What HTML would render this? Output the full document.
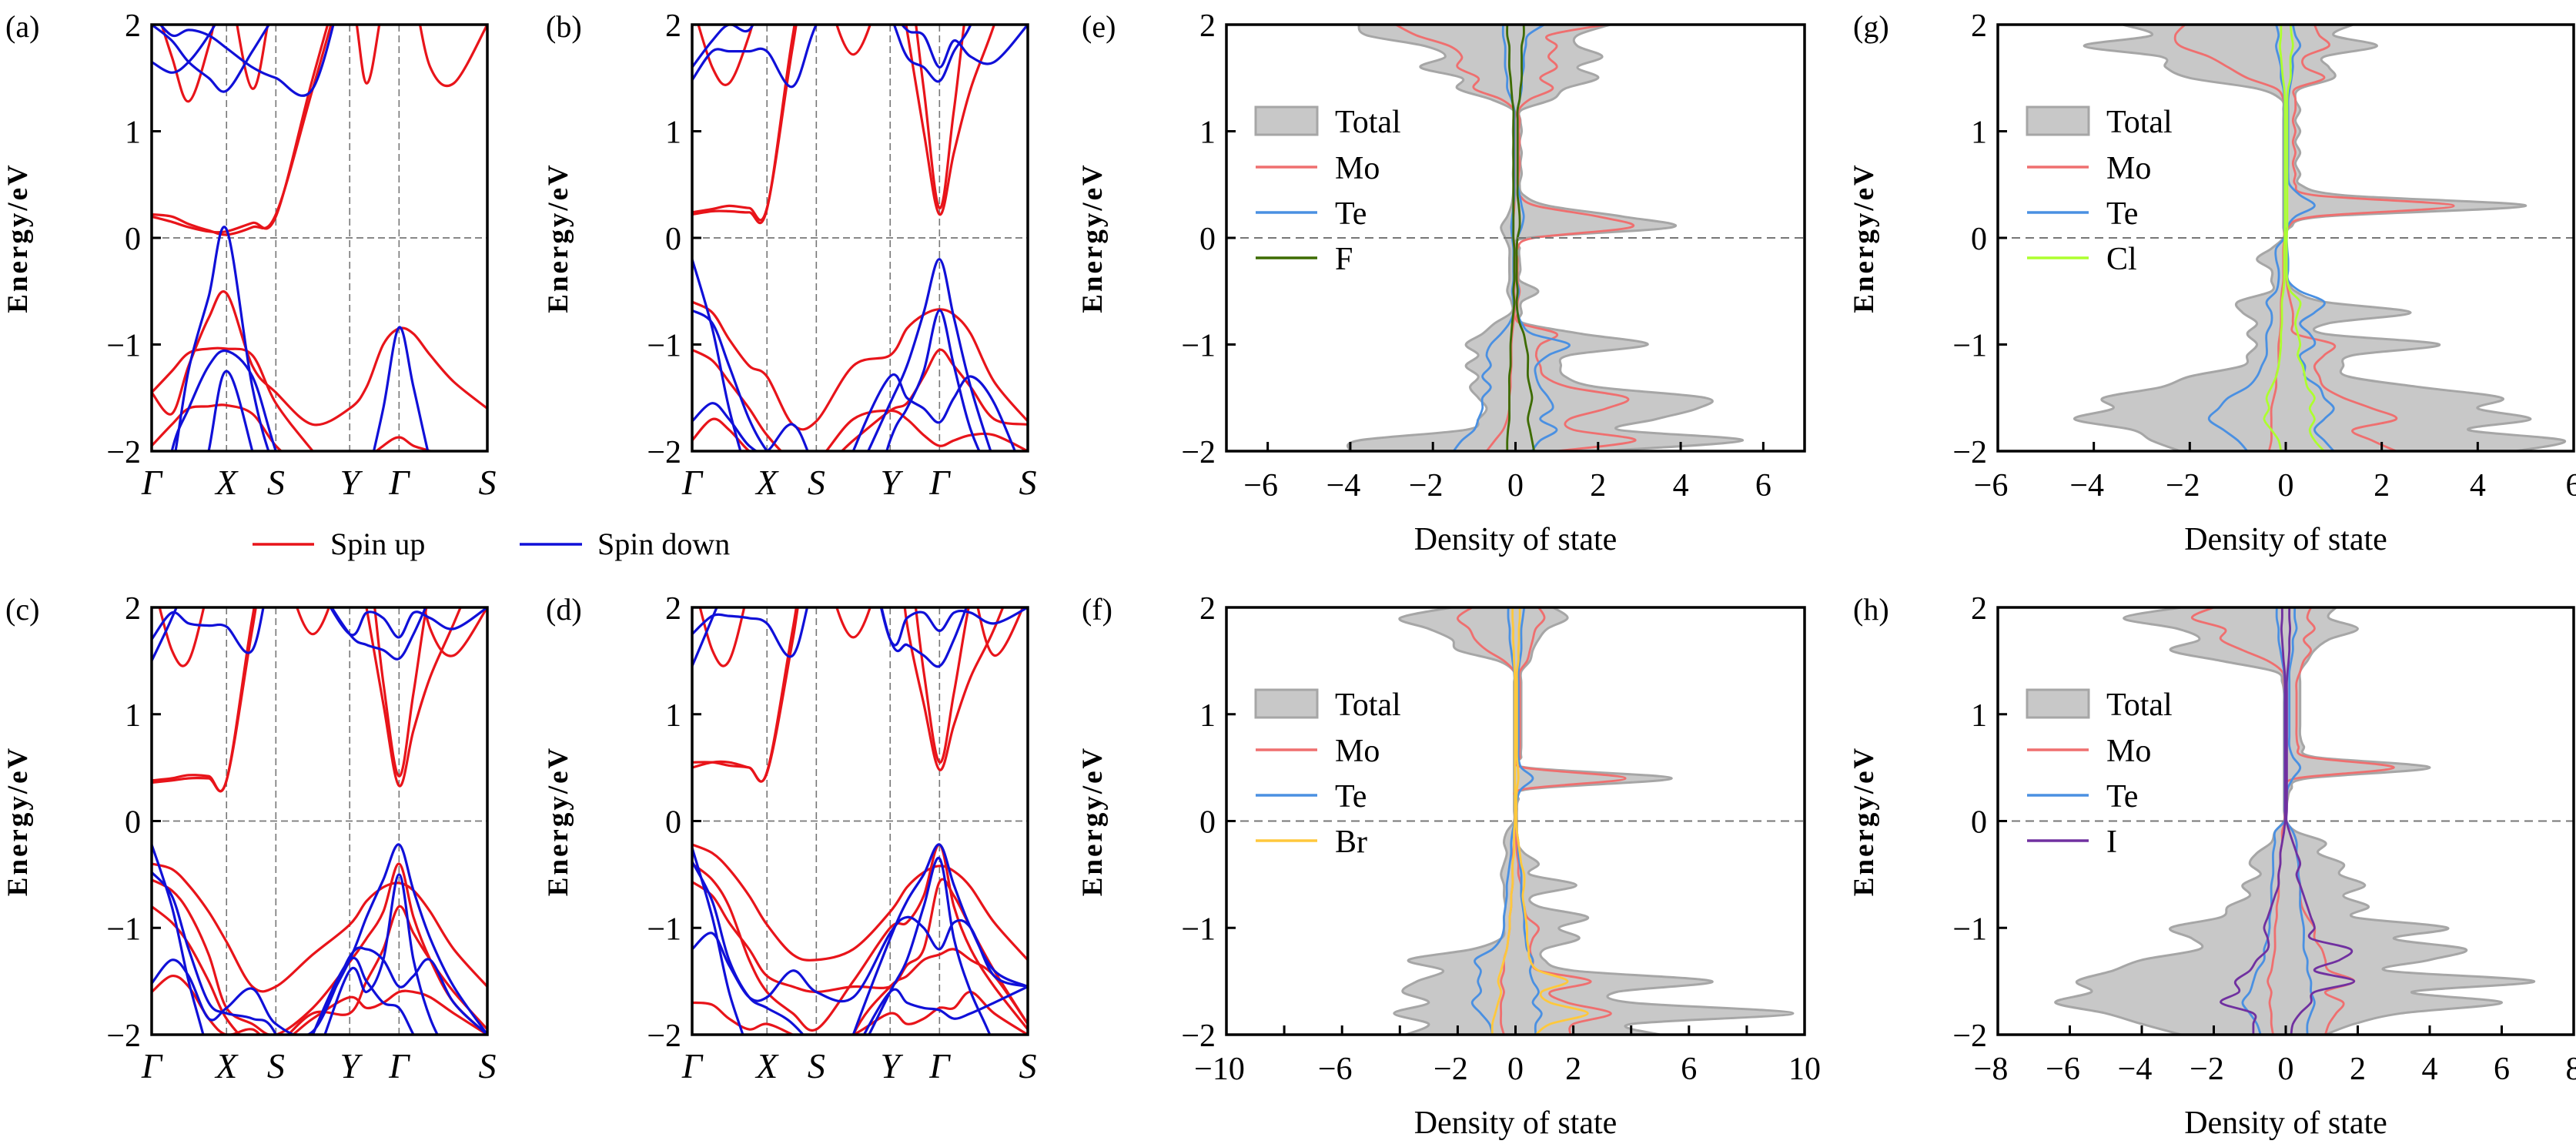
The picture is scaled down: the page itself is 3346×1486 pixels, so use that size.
<!DOCTYPE html>
<html><head><meta charset="utf-8"><style>
html,body{margin:0;padding:0;background:#fff;}
svg{display:block;font-family:"Liberation Serif","DejaVu Serif",serif;}
</style></head><body>
<svg id="fig" width="3346" height="1486" viewBox="0 0 3346 1486" xmlns="http://www.w3.org/2000/svg">
<rect x="0" y="0" width="3346" height="1486" fill="#fff"/>
<g id="root"></g>
<g>
<line x1="328" y1="707" x2="408" y2="707" stroke="#e8141a" stroke-width="3.5"/>
<text x="429" y="720" font-size="40">Spin up</text>
<line x1="675" y1="707" x2="756" y2="707" stroke="#1010d8" stroke-width="3.5"/>
<text x="776" y="720" font-size="40">Spin down</text>
</g>
</svg>
<script>
const kFrac=[0,.06,.11,.17,.223,.30,.37,.48,.59,.64,.69,.737,.78,.83,.9,1];
const kLabels=["Γ","X","S","Y","Γ","S"];
const kLabelFrac=[0,.223,.37,.59,.737,1];
const energyTicks=[2,1,0,-1,-2];
const E=[2,1.9,1.8,1.7,1.6,1.5,1.4,1.3,1.2,1.1,1,0.9,0.8,0.7,0.6,0.5,0.4,0.3,0.2,0.1,0,-0.1,-0.2,-0.3,-0.4,-0.5,-0.6,-0.7,-0.8,-0.9,-1,-1.1,-1.2,-1.3,-1.4,-1.5,-1.6,-1.7,-1.8,-1.9,-2];
const H=3,L=-3;
// band data (a)
const aUp=[
[.22,.2,.13,.07,.03,.1,.22,1.4,2.6,H,H,H,H,H,H,H],
[.2,.15,.1,.06,.06,.14,.2,1.5,2.7,H,H,H,H,H,H,H],
[-1.45,-1.65,-1.2,-0.75,-0.52,-1.2,-1.45,-1.75,-1.6,-1.4,-1.0,-0.85,-0.9,-1.1,-1.35,-1.6],
[-1.45,-1.25,-1.08,-1.04,-1.04,-1.1,-1.55,-2.0,-2.4,-2.1,-1.95,-1.87,-1.95,-2.0,-2.1,-2.3],
[-1.95,-1.75,-1.6,-1.58,-1.57,-1.65,-1.95,-2.3,L,L,L,L,L,L,L,L],
[2.3,1.7,1.28,1.8,2.5,2.6,H,H,H,H,H,H,H,H,H,H],
[H,H,H,2.6,2.5,1.4,2.3,2.6,H,H,H,H,H,H,H,H],
[H,H,H,H,H,H,H,2.6,2.3,1.45,2.2,2.7,H,H,H,H],
[H,H,H,H,H,H,H,H,H,H,H,2.7,2.3,1.6,1.45,2.0]];
const aDn=[
[L,-2.2,-1.24,-0.55,0.08,-1.4,-2.2,L,L,L,L,L,L,L,L,L],
[L,L,L,-2.0,-1.25,-2.0,L,L,L,L,L,L,L,L,L,L],
[L,-2.0,-1.6,-1.2,-1.06,-1.3,-2.0,L,L,L,L,L,L,L,L,L],
[L,L,L,L,L,L,L,L,L,-2.3,-1.6,-0.84,-1.4,-2.1,L,L],
[1.65,1.55,1.65,1.9,2.2,2.6,H,H,H,H,H,H,H,H,H,H],
[2.0,1.85,1.65,1.5,1.38,1.75,2.1,2.6,H,H,H,H,H,H,H,H],
[2.1,1.9,1.95,1.9,1.78,1.6,1.5,1.4,2.6,H,H,H,H,H,H,H]];
// band data (b)
const bUp=[
[.24,.27,.3,.28,.28,1.8,H,H,H,H,H,H,H,H,H,H],
[.22,.25,.25,.24,.27,1.9,H,H,H,H,H,H,H,H,H,H],
[H,H,H,H,H,H,H,H,H,1.95,1.0,.22,.8,1.4,2.0,H],
[H,H,H,H,H,H,H,H,H,2.6,1.4,.28,1.2,2.4,H,H],
[H,H,H,H,H,H,2.6,1.72,2.6,H,H,H,H,H,H,H],
[2.2,1.6,1.45,1.9,2.5,H,H,H,H,H,H,H,H,H,H,H],
[-0.6,-0.7,-0.95,-1.2,-1.3,-1.75,-1.72,-1.2,-1.1,-0.85,-0.72,-0.67,-0.72,-0.9,-1.35,-1.72],
[-1.05,-1.15,-1.35,-1.6,-1.85,-2.1,-2.2,-1.9,-1.62,-1.55,-1.3,-1.05,-1.2,-1.4,-1.7,-1.75],
[-1.9,-1.7,-1.8,-2.0,-2.1,-2.1,-2.1,-1.7,-1.62,-1.7,-1.85,-1.95,-1.9,-1.85,-1.85,-2.0]];
const bDn=[
[-0.2,-0.85,-1.6,-2.3,L,L,L,L,L,L,L,L,L,L,L,L],
[-0.68,-0.8,-1.2,-1.7,-2.0,-2.3,L,L,L,L,L,L,L,L,L,L],
[-1.72,-1.55,-1.7,-1.95,-2.0,-1.75,-2.2,L,L,L,L,L,L,L,L,L],
[L,L,L,L,L,L,L,-2.3,-1.55,-1.2,-0.7,-0.2,-0.75,-1.4,-2.1,L],
[L,L,L,L,L,L,L,L,-1.9,-1.6,-1.25,-0.68,-1.2,-1.8,-2.3,L],
[L,L,L,L,L,L,L,-2.0,-1.3,-1.5,-1.6,-1.73,-1.5,-1.3,-1.55,-2.3],
[1.48,1.75,1.75,1.75,1.75,1.42,2.0,2.6,H,H,H,H,H,H,H,H],
[1.6,1.85,2.0,1.95,2.3,2.6,H,H,H,H,H,H,H,H,H,H],
[H,H,H,H,H,H,H,H,2.1,1.7,1.6,1.47,1.75,2.0,2.6,H],
[H,H,H,H,H,H,H,H,2.2,1.95,1.9,1.6,1.85,1.7,1.65,2.0]];
// band data (c)
const cUp=[
[.38,.4,.43,.42,.38,1.9,H,H,H,H,H,H,H,H,H,H],
[.36,.38,.4,.4,.38,1.8,H,H,H,H,H,H,H,H,H,H],
[H,H,H,H,H,H,H,H,H,2.0,1.1,.33,.85,1.35,1.85,2.6],
[H,H,H,H,H,H,H,H,H,2.6,1.3,.42,1.2,2.2,H,H],
[2.3,1.6,1.5,2.2,H,H,H,H,H,H,H,H,H,H,H,H],
[H,H,H,H,H,H,2.6,1.75,2.6,H,H,H,H,H,H,H],
[H,H,H,H,H,H,H,H,H,H,H,H,2.5,1.8,1.55,2.0],
[-0.4,-0.45,-0.6,-0.85,-1.13,-1.55,-1.55,-1.25,-0.97,-0.75,-0.62,-0.58,-0.65,-0.85,-1.2,-1.55],
[-0.55,-0.65,-0.85,-1.25,-1.75,-1.9,-2.0,-1.75,-1.32,-1.1,-0.85,-0.4,-0.9,-1.3,-1.7,-2.0],
[-0.8,-0.95,-1.15,-1.5,-1.85,-2.1,-2.1,-1.8,-1.8,-1.5,-1.2,-0.8,-1.05,-1.3,-1.6,-1.95],
[-1.6,-1.45,-1.55,-1.85,-2.0,-1.95,-2.1,-1.85,-1.65,-1.75,-1.7,-1.6,-1.6,-1.65,-1.8,-2.0]];
const cDn=[
[-0.22,-0.8,-1.5,-2.2,L,L,L,L,L,L,L,L,L,L,L,L],
[-0.48,-0.7,-1.2,-1.7,-1.8,-1.85,-2.0,L,L,L,L,L,L,L,L,L],
[-1.52,-1.3,-1.45,-1.85,-1.75,-1.57,-1.9,-1.97,-1.27,-1.2,-1.3,-1.55,-1.45,-1.3,-1.7,-2.0],
[L,L,L,L,L,L,L,-2.0,-1.3,-0.9,-0.55,-0.22,-0.65,-1.1,-1.55,-2.0],
[L,L,L,L,L,L,L,-2.3,-1.4,-1.6,-1.3,-0.5,-1.3,-1.85,-2.3,L],
[L,L,L,L,L,L,L,-2.0,-1.3,-1.5,-1.7,-1.75,-2.0,-2.3,L,L],
[1.5,1.9,2.3,H,H,H,H,H,H,H,H,H,H,H,H,H],
[1.7,1.95,1.85,1.83,1.82,1.6,2.5,H,H,H,H,H,H,H,H,H],
[H,H,H,H,H,H,H,2.3,1.75,1.65,1.6,1.52,1.75,2.1,2.6,H],
[H,H,H,H,H,H,H,2.3,1.75,1.95,1.9,1.72,1.95,1.9,1.8,2.0]];
// band data (d)
const dUp=[
[.55,.55,.52,.5,.45,1.7,H,H,H,H,H,H,H,H,H,H],
[.5,.55,.55,.5,.46,1.8,H,H,H,H,H,H,H,H,H,H],
[H,H,H,H,H,H,H,H,H,1.85,1.1,.48,.9,1.35,1.8,2.6],
[H,H,H,H,H,H,H,H,H,2.6,1.4,.55,1.2,2.1,H,H],
[2.3,1.6,1.5,2.2,H,H,H,H,H,H,H,H,H,H,H,H],
[H,H,H,H,H,H,2.6,1.72,2.6,H,H,H,H,H,H,H],
[H,H,H,H,H,H,H,H,H,H,H,H,H,2.3,1.55,2.1],
[-0.22,-0.3,-0.45,-0.7,-0.97,-1.25,-1.3,-1.2,-0.85,-0.62,-0.48,-0.42,-0.47,-0.62,-0.95,-1.3],
[-0.4,-0.55,-0.8,-1.3,-1.6,-1.8,-1.95,-1.5,-1.0,-0.95,-0.7,-0.22,-0.8,-1.2,-1.55,-1.95],
[-0.57,-0.7,-0.95,-1.2,-1.45,-1.55,-1.6,-1.55,-1.55,-1.35,-1.2,-0.57,-0.7,-1.0,-1.4,-1.9],
[-1.7,-1.72,-1.85,-1.95,-1.9,-2.0,-2.1,-2.0,-1.8,-1.9,-1.85,-1.75,-1.75,-1.6,-1.8,-2.0],
[L,L,L,L,L,L,L,-2.0,-1.55,-1.45,-1.3,-1.25,-1.2,-1.3,-1.45,-1.9]];
const dDn=[
[-0.25,-0.9,-1.6,-2.2,L,L,L,L,L,L,L,L,L,L,L,L],
[-0.38,-0.75,-1.3,-1.65,-1.75,-1.9,-2.2,L,L,L,L,L,L,L,L,L],
[-1.2,-1.05,-1.35,-1.65,-1.65,-1.4,-1.6,-1.65,-1.05,-0.9,-1.0,-1.2,-0.95,-1.0,-1.45,-1.55],
[L,L,L,L,L,L,L,-2.0,-1.1,-0.75,-0.5,-0.22,-0.6,-1.0,-1.4,-1.55],
[L,L,L,L,L,L,L,-2.3,-1.6,-1.3,-0.8,-0.35,-1.1,-1.6,-2.1,L],
[L,L,L,L,L,L,L,-2.2,-1.6,-1.7,-1.75,-1.77,-1.85,-1.8,-1.7,-1.55],
[1.45,1.9,2.3,H,H,H,H,H,H,H,H,H,H,H,H,H],
[1.75,1.92,1.92,1.9,1.85,1.55,2.3,H,H,H,H,H,H,H,H,H],
[H,H,H,H,H,H,H,H,1.7,1.65,1.55,1.45,1.7,2.1,2.6,H],
[H,H,H,H,H,H,H,H,1.7,1.9,1.95,1.78,1.95,1.95,1.85,2.0]];
// DOS data (e) F
const eTotUp=[2.3,1.5,1.5,2.1,1.5,2.0,1.2,0.9,0.15,0.12,0.15,0.1,0.15,0.12,0.15,0.1,0.2,0.8,2.6,3.8,0.3,0.1,0.1,0.12,0.1,0.55,0.15,0.15,0.2,1.6,3.2,1.3,1.1,1.2,2.0,4.6,4.4,3.4,2.5,5.5,2.0];
const eTotDn=[-3.8,-3.6,-2.2,-1.7,-2.3,-1.3,-1.4,-0.6,-0.06,-0.05,-0.06,-0.05,-0.06,-0.05,-0.06,-0.05,-0.06,-0.1,-0.2,-0.35,-0.25,-0.15,-0.15,-0.15,-0.15,-0.2,-0.1,-0.1,-0.5,-0.8,-1.2,-0.9,-1.2,-0.9,-1.1,-0.9,-0.7,-0.9,-1.2,-3.8,-4.0];
const eMoUp=[2.2,0.8,1.0,0.8,1.0,0.6,0.9,0.35,0.08,0.1,0.08,0.1,0.08,0.1,0.08,0.06,0.1,0.5,2.0,2.8,0.45,0.05,0.05,0.05,0.05,0.1,0.05,0.05,0.1,1.0,0.6,0.5,0.6,0.7,1.3,2.7,2.2,1.3,1.4,2.9,1.0];
const eMoDn=[-2.9,-2.4,-1.6,-1.3,-1.4,-0.9,-1.0,-0.35,-0.03,-0.02,-0.02,-0.02,-0.02,-0.02,-0.02,-0.02,-0.02,-0.03,-0.05,-0.1,-0.05,-0.02,-0.02,-0.02,-0.02,-0.03,-0.02,-0.02,-0.05,-0.08,-0.1,-0.1,-0.1,-0.12,-0.12,-0.15,-0.15,-0.2,-0.3,-0.5,-0.7];
const eTeUp=[0.7,0.3,0.25,0.2,0.2,0.15,0.15,0.1,0.05,0.05,0.05,0.05,0.05,0.05,0.05,0.05,0.1,0.15,0.2,0.15,0.05,0.03,0.03,0.03,0.03,0.08,0.03,0.05,0.15,0.4,1.3,0.8,0.5,0.5,0.6,0.8,0.9,0.6,1.0,0.6,0.4];
const eTeDn=[-0.3,-0.3,-0.25,-0.25,-0.25,-0.2,-0.2,-0.1,-0.03,-0.03,-0.03,-0.03,-0.03,-0.03,-0.03,-0.03,-0.03,-0.05,-0.08,-0.1,-0.08,-0.05,-0.05,-0.05,-0.05,-0.08,-0.05,-0.05,-0.15,-0.35,-0.6,-0.7,-0.6,-0.8,-0.6,-0.8,-0.8,-0.9,-1.0,-1.3,-1.5];
const eXUp=[0.2,0.2,0.15,0.15,0.15,0.15,0.12,0.1,0.05,0.05,0.05,0.05,0.05,0.05,0.05,0.05,0.05,0.08,0.1,0.1,0.05,0.03,0.03,0.03,0.03,0.05,0.03,0.05,0.1,0.2,0.25,0.3,0.3,0.3,0.35,0.4,0.35,0.3,0.35,0.4,0.45];
const eXDn=[-0.2,-0.2,-0.15,-0.15,-0.15,-0.12,-0.1,-0.08,-0.05,-0.05,-0.05,-0.05,-0.05,-0.05,-0.05,-0.05,-0.05,-0.05,-0.05,-0.05,-0.05,-0.03,-0.03,-0.03,-0.03,-0.05,-0.03,-0.05,-0.08,-0.1,-0.12,-0.12,-0.12,-0.15,-0.15,-0.15,-0.15,-0.15,-0.18,-0.2,-0.2];
// DOS data (g) Cl
const gTotUp=[1.4,1.0,1.9,0.8,0.9,1.0,0.3,0.2,0.3,0.2,0.3,0.2,0.3,0.2,0.3,0.3,1.2,5.0,0.8,0.1,0.02,0.02,0.02,0.02,0.05,0.2,0.8,2.6,0.9,0.8,3.2,1.4,1.2,1.3,2.8,4.5,4.0,5.1,3.8,5.8,4.8];
const gTotDn=[-3.4,-2.8,-4.2,-2.6,-2.5,-2.0,-0.6,-0.1,-0.05,-0.05,-0.05,-0.05,-0.05,-0.05,-0.05,-0.05,-0.05,-0.05,-0.05,-0.05,-0.05,-0.3,-0.6,-0.3,-0.3,-0.3,-1.0,-0.9,-0.6,-0.8,-0.6,-0.8,-0.9,-2.0,-2.6,-3.8,-3.6,-4.4,-3.2,-2.8,-2.2];
const gMoUp=[0.6,0.7,0.9,0.4,0.4,0.8,0.2,0.2,0.2,0.15,0.2,0.15,0.2,0.15,0.2,0.2,0.6,3.5,0.6,0.05,0.02,0.02,0.02,0.02,0.02,0.05,0.1,0.15,0.15,0.2,1.0,0.8,0.6,0.7,0.8,1.2,1.8,2.3,1.4,1.8,2.3];
const gMoDn=[-2.1,-2.3,-2.2,-1.6,-1.2,-0.8,-0.2,-0.05,-0.03,-0.03,-0.03,-0.03,-0.03,-0.03,-0.03,-0.03,-0.03,-0.03,-0.03,-0.03,-0.03,-0.05,-0.05,-0.05,-0.05,-0.08,-0.1,-0.1,-0.1,-0.12,-0.15,-0.15,-0.15,-0.2,-0.2,-0.25,-0.3,-0.3,-0.3,-0.3,-0.35];
const gTeUp=[0.15,0.2,0.3,0.15,0.15,0.12,0.08,0.05,0.05,0.05,0.05,0.05,0.05,0.05,0.05,0.08,0.3,0.6,0.2,0.03,0.02,0.03,0.05,0.05,0.05,0.3,0.8,0.6,0.3,0.5,0.6,0.3,0.4,0.4,0.7,0.8,1.0,0.8,0.6,0.8,1.0];
const gTeDn=[-0.2,-0.15,-0.2,-0.15,-0.1,-0.1,-0.05,-0.03,-0.03,-0.03,-0.03,-0.03,-0.03,-0.03,-0.03,-0.03,-0.03,-0.03,-0.03,-0.03,-0.03,-0.2,-0.2,-0.15,-0.15,-0.2,-0.4,-0.3,-0.3,-0.4,-0.4,-0.4,-0.5,-0.6,-0.8,-1.2,-1.4,-1.6,-1.3,-1.0,-0.8];
const gXUp=[0.1,0.12,0.15,0.1,0.1,0.1,0.05,0.03,0.03,0.03,0.03,0.03,0.03,0.03,0.03,0.03,0.03,0.03,0.03,0.03,0.02,0.02,0.02,0.02,0.03,0.1,0.3,0.25,0.2,0.25,0.3,0.25,0.35,0.4,0.45,0.6,0.5,0.6,0.5,0.6,0.8];
const gXDn=[-0.1,-0.1,-0.12,-0.1,-0.08,-0.06,-0.03,-0.02,-0.02,-0.02,-0.02,-0.02,-0.02,-0.02,-0.02,-0.02,-0.02,-0.02,-0.02,-0.02,-0.02,-0.03,-0.03,-0.03,-0.03,-0.05,-0.08,-0.08,-0.08,-0.1,-0.1,-0.12,-0.15,-0.2,-0.3,-0.4,-0.35,-0.45,-0.3,-0.15,-0.1];
// DOS data (f) Br
const fTotUp=[1.3,1.8,1.1,0.8,0.6,0.5,0.2,0.2,0.2,0.2,0.2,0.2,0.2,0.2,0.2,0.4,5.4,0.5,0.1,0.05,0.05,0.05,0.05,0.3,0.8,0.5,2.1,0.6,0.8,2.5,1.5,2.2,1.0,1.0,2.0,6.8,3.5,4.0,9.6,4.0,5.0];
const fTotDn=[-2.2,-4.0,-3.0,-2.2,-2.0,-0.6,-0.05,-0.05,-0.05,-0.05,-0.05,-0.05,-0.05,-0.05,-0.05,-0.05,-0.05,-0.05,-0.05,-0.05,-0.05,-0.3,-0.4,-0.3,-0.4,-0.5,-0.4,-0.4,-0.35,-0.4,-0.4,-0.5,-1.5,-3.7,-2.5,-3.4,-3.9,-3.0,-4.2,-3.0,-3.8];
const fMoUp=[0.8,1.0,0.7,0.6,0.5,0.4,0.15,0.15,0.15,0.15,0.15,0.15,0.15,0.15,0.15,0.3,3.8,0.3,0.05,0.03,0.03,0.03,0.03,0.05,0.1,0.1,0.2,0.2,0.3,0.4,0.8,0.6,0.5,0.6,0.8,2.6,1.2,1.8,3.3,2.0,1.9];
const fMoDn=[-1.5,-2.0,-1.6,-1.4,-1.0,-0.4,-0.05,-0.03,-0.03,-0.03,-0.03,-0.03,-0.03,-0.03,-0.03,-0.03,-0.03,-0.03,-0.03,-0.03,-0.03,-0.05,-0.05,-0.08,-0.1,-0.1,-0.1,-0.15,-0.15,-0.2,-0.2,-0.25,-0.3,-0.4,-0.4,-0.5,-0.4,-0.5,-0.5,-0.5,-0.4];
const fTeUp=[0.3,0.25,0.2,0.2,0.2,0.15,0.1,0.1,0.1,0.1,0.1,0.1,0.1,0.1,0.1,0.2,0.6,0.2,0.05,0.03,0.03,0.05,0.1,0.1,0.15,0.2,0.2,0.2,0.25,0.3,0.3,0.35,0.4,0.6,0.5,0.6,0.8,0.6,0.9,0.7,0.7];
const fTeDn=[-0.25,-0.25,-0.2,-0.2,-0.15,-0.1,-0.05,-0.03,-0.03,-0.03,-0.03,-0.03,-0.03,-0.03,-0.03,-0.03,-0.03,-0.03,-0.03,-0.03,-0.03,-0.1,-0.15,-0.15,-0.2,-0.25,-0.3,-0.3,-0.35,-0.4,-0.4,-0.5,-0.8,-1.4,-1.2,-1.3,-1.2,-1.5,-1.2,-0.9,-0.8];
const fXUp=[0.15,0.15,0.12,0.12,0.1,0.1,0.05,0.05,0.05,0.05,0.05,0.05,0.05,0.05,0.05,0.08,0.1,0.05,0.03,0.03,0.03,0.05,0.1,0.15,0.2,0.3,0.3,0.25,0.3,0.35,0.4,0.4,0.45,0.5,0.8,1.8,0.9,1.2,2.5,1.2,0.7];
const fXDn=[-0.1,-0.1,-0.08,-0.08,-0.06,-0.05,-0.03,-0.02,-0.02,-0.02,-0.02,-0.02,-0.02,-0.02,-0.02,-0.02,-0.02,-0.02,-0.02,-0.02,-0.02,-0.05,-0.05,-0.05,-0.1,-0.1,-0.1,-0.15,-0.15,-0.2,-0.2,-0.25,-0.3,-0.4,-0.5,-0.6,-0.5,-0.6,-0.7,-0.8,-0.8];
// DOS data (h) I
const hTotUp=[1.4,1.2,2.0,1.2,0.8,0.6,0.4,0.4,0.4,0.4,0.4,0.4,0.4,0.5,0.8,4.0,0.6,0.15,0.05,0.02,0.02,0.3,1.1,0.9,1.6,1.5,2.2,1.6,2.3,1.9,4.5,3.0,5.0,4.0,2.8,6.9,3.5,6.0,3.2,1.9,1.1];
const hTotDn=[-2.9,-4.5,-3.0,-2.4,-3.2,-1.8,-0.3,-0.1,-0.05,-0.05,-0.05,-0.05,-0.05,-0.05,-0.05,-0.05,-0.05,-0.05,-0.05,-0.05,-0.05,-0.3,-0.4,-0.8,-1.0,-0.7,-1.2,-1.0,-1.6,-1.8,-3.2,-2.6,-2.4,-4.0,-4.8,-5.8,-5.4,-6.4,-5.0,-4.0,-2.9];
const hMoUp=[0.7,0.6,0.8,0.5,0.7,0.5,0.4,0.3,0.3,0.3,0.3,0.3,0.3,0.35,0.6,3.0,0.3,0.05,0.02,0.02,0.02,0.2,0.3,0.3,0.35,0.35,0.4,0.4,0.45,0.6,0.8,0.8,1.0,1.1,1.2,1.9,1.1,1.6,1.4,1.2,1.1];
const hMoDn=[-2.0,-2.6,-1.7,-1.8,-1.2,-0.5,-0.1,-0.05,-0.03,-0.03,-0.03,-0.03,-0.03,-0.03,-0.03,-0.03,-0.03,-0.03,-0.03,-0.03,-0.03,-0.1,-0.1,-0.15,-0.15,-0.2,-0.2,-0.2,-0.25,-0.25,-0.3,-0.3,-0.3,-0.35,-0.4,-0.5,-0.4,-0.45,-0.4,-0.4,-0.35];
const hTeUp=[0.25,0.25,0.3,0.2,0.2,0.15,0.1,0.1,0.1,0.1,0.1,0.1,0.1,0.1,0.2,0.4,0.2,0.05,0.02,0.02,0.02,0.2,0.3,0.3,0.35,0.35,0.4,0.4,0.4,0.45,0.5,0.5,0.5,0.6,0.6,0.7,0.7,0.8,0.7,0.6,0.6];
const hTeDn=[-0.25,-0.25,-0.2,-0.2,-0.15,-0.1,-0.05,-0.03,-0.03,-0.03,-0.03,-0.03,-0.03,-0.03,-0.03,-0.03,-0.03,-0.03,-0.03,-0.03,-0.03,-0.3,-0.3,-0.35,-0.35,-0.35,-0.4,-0.4,-0.4,-0.45,-0.45,-0.5,-0.6,-0.6,-0.8,-0.9,-1.0,-1.2,-1.0,-0.8,-0.7];
const hXUp=[0.1,0.1,0.12,0.1,0.1,0.08,0.05,0.03,0.03,0.03,0.03,0.03,0.03,0.03,0.03,0.03,0.03,0.03,0.03,0.03,0.02,0.1,0.2,0.3,0.4,0.3,0.4,0.5,0.6,0.7,0.8,0.7,1.8,1.5,0.8,1.9,0.8,0.7,0.4,0.2,0.15];
const hXDn=[-0.1,-0.1,-0.12,-0.1,-0.08,-0.06,-0.03,-0.02,-0.02,-0.02,-0.02,-0.02,-0.02,-0.02,-0.02,-0.02,-0.02,-0.02,-0.02,-0.02,-0.02,-0.05,-0.1,-0.15,-0.15,-0.2,-0.2,-0.3,-0.4,-0.5,-0.6,-0.5,-0.5,-0.8,-1.0,-1.4,-1.3,-1.8,-0.9,-0.9,-0.9];

const NS='http://www.w3.org/2000/svg';
const root=document.getElementById('root');
function mk(tag,attrs,parent){const el=document.createElementNS(NS,tag);for(const k in attrs)el.setAttribute(k,attrs[k]);(parent||root).appendChild(el);return el;}
function spline(pts){
  let d='M'+pts[0][0].toFixed(1)+','+pts[0][1].toFixed(1);
  for(let i=0;i<pts.length-1;i++){
    const p0=pts[i-1]||pts[i],p1=pts[i],p2=pts[i+1],p3=pts[i+2]||p2;
    const c1=[p1[0]+(p2[0]-p0[0])/6,p1[1]+(p2[1]-p0[1])/6];
    const c2=[p2[0]-(p3[0]-p1[0])/6,p2[1]-(p3[1]-p1[1])/6];
    d+='C'+c1[0].toFixed(1)+','+c1[1].toFixed(1)+' '+c2[0].toFixed(1)+','+c2[1].toFixed(1)+' '+p2[0].toFixed(1)+','+p2[1].toFixed(1);
  }
  return d;
}
function fmt(v){return v<0?'\u2212'+Math.abs(v):String(v);}
let clipN=0;
function frameAndY(g,x0,x1,y0,y1,yS,label,lx,ylabX){
  // y tick labels
  energyTicks.forEach(v=>{
    const y=yS(v);
    const t=mk('text',{x:x0-14,y:y+15,'font-size':42,'text-anchor':'end'},g);
    
    
    t.textContent=fmt(v);
    const tk=mk('line',{x1:x0,x2:x0+12,y1:y,y2:y,stroke:'#000','stroke-width':3},g);
    
    
  });
  const yt=mk('text',{x:0,y:0,'font-size':37,'font-weight':'bold','text-anchor':'middle','letter-spacing':'3',transform:`translate(${ylabX},${(y0+y1)/2}) rotate(-90)`},g);
  
  
  yt.textContent='Energy/eV';
  const pl=mk('text',{x:lx,y:y0+16,'font-size':40},g);
  
  
  pl.textContent=label;
}
function bandPanel(name,x0,x1,y0,y1,up,dn){
  const g=mk('g',{});
  
  
  const xS=f=>x0+f*(x1-x0), yS=e=>y0+(2-e)/4*(y1-y0);
  const id='clip'+(clipN++);
  const cp=mk('clipPath',{id:id},g);mk('rect',{x:x0,y:y0,width:x1-x0,height:y1-y0},cp);
  kLabelFrac.forEach((f,i)=>{
    if(i>0&&i<kLabelFrac.length-1){
      const l=mk('line',{x1:xS(f),x2:xS(f),y1:y0,y2:y1,stroke:'#777','stroke-width':1.6,'stroke-dasharray':'9,5'},g);
      
      
    }
    const t=mk('text',{x:xS(f),y:y1+56,'font-size':46,'font-style':'italic','text-anchor':'middle'},g);
    
    
    t.textContent=kLabels[i];
  });
  const z=mk('line',{x1:x0,x2:x1,y1:yS(0),y2:yS(0),stroke:'#777','stroke-width':1.8,'stroke-dasharray':'9,5'},g);
  
  
  const lg=mk('g',{'clip-path':`url(#${id})`,fill:'none','stroke-width':3.2},g);
  up.forEach(b=>{
    const p=mk('path',{d:spline(b.map((e,i)=>[xS(kFrac[i]),yS(e)])),stroke:'#e8141a'},lg);
    
    
  });
  dn.forEach(b=>{
    const p=mk('path',{d:spline(b.map((e,i)=>[xS(kFrac[i]),yS(e)])),stroke:'#1010d8'},lg);
    
    
  });
  const fr=mk('rect',{x:x0,y:y0,width:x1-x0,height:y1-y0,fill:'none',stroke:'#000','stroke-width':3.5},g);
  
  
  frameAndY(g,x0,x1,y0,y1,yS,'('+name+')',x0-190,x0-162);
}
function dosPanel(name,x0,x1,y0,y1,xmax,ticks,tickLabels,series,xName,xColor){
  const g=mk('g',{});
  
  
  const xS=v=>x0+(v+xmax)/(2*xmax)*(x1-x0), yS=e=>y0+(2-e)/4*(y1-y0);
  const id='clip'+(clipN++);
  const cp=mk('clipPath',{id:id},g);mk('rect',{x:x0,y:y0,width:x1-x0,height:y1-y0},cp);
  const lg=mk('g',{'clip-path':`url(#${id})`,fill:'none'},g);
  const upPts=series.totUp.map((v,i)=>[xS(v),yS(E[i])]);
  const dnPts=series.totDn.map((v,i)=>[xS(v),yS(E[i])]).reverse();
  const dUp=spline(upPts), dDn=spline(dnPts);
  const fill=mk('path',{d:dUp+'L'+dDn.slice(1)+'Z',fill:'#c8c8c8',stroke:'#a6a6a6','stroke-width':3},lg);
  
  
  const z=mk('line',{x1:x0,x2:x1,y1:yS(0),y2:yS(0),stroke:'#777','stroke-width':2,'stroke-dasharray':'11,7'},g);
  
  
  const lines=[['Mo','#ef6f6f',series.moUp,series.moDn],['Te','#4a90e2',series.teUp,series.teDn],[xName,xColor,series.xUp,series.xDn]];
  lines.forEach(([nm,c,u,d])=>{
    [u,d].forEach(arr=>{
      const p=mk('path',{d:spline(arr.map((v,i)=>[xS(v),yS(E[i])])),stroke:c,'stroke-width':2.8},lg);
      
      
    });
  });
  ticks.forEach((v,i)=>{
    const tk=mk('line',{x1:xS(v),x2:xS(v),y1:y1,y2:y1-12,stroke:'#000','stroke-width':3},g);
    
    
    if(tickLabels[i]!==''){
      const t=mk('text',{x:xS(v)-(v<0?9:0),y:y1+58,'font-size':42,'text-anchor':'middle'},g);
      
      
      t.textContent=tickLabels[i];
    }
  });
  const xt=mk('text',{x:(x0+x1)/2,y:y1+128,'font-size':42,'text-anchor':'middle'},g);
  
  
  xt.textContent='Density of state';
  // legend
  const lgd=mk('g',{},g);
  
  
  const lx=x0+38, ly=y0+107;
  const sw=mk('rect',{x:lx,y:ly,width:80,height:36,fill:'#c8c8c8',stroke:'#a6a6a6','stroke-width':3},lgd);
  
  
  const t0=mk('text',{x:lx+103,y:ly+33,'font-size':42},lgd);
  
  
  t0.textContent='Total';
  lines.forEach(([nm,c],i)=>{
    const yy=ly+78+59*i;
    const l=mk('line',{x1:lx,x2:lx+80,y1:yy,y2:yy,stroke:c,'stroke-width':3.5},lgd);
    
    
    const t=mk('text',{x:lx+103,y:yy+15,'font-size':42},lgd);
    
    
    t.textContent=nm;
  });
  const fr=mk('rect',{x:x0,y:y0,width:x1-x0,height:y1-y0,fill:'none',stroke:'#000','stroke-width':3.5},g);
  
  
  frameAndY(g,x0,x1,y0,y1,yS,'('+name+')',x0-188,x0-162);
}
bandPanel('a',197,633,32,586,aUp,aDn);
bandPanel('b',899,1335,32,586,bUp,bDn);
bandPanel('c',197,633,789,1344,cUp,cDn);
bandPanel('d',899,1335,789,1344,dUp,dDn);
dosPanel('e',1593,2344,32,586,7,[-6,-4,-2,0,2,4,6],['\u22126','\u22124','\u22122','0','2','4','6'],
 {totUp:eTotUp,totDn:eTotDn,moUp:eMoUp,moDn:eMoDn,teUp:eTeUp,teDn:eTeDn,xUp:eXUp,xDn:eXDn},'F','#3d6b00');
dosPanel('g',2595,3343,32,586,6,[-6,-4,-2,0,2,4,6],['\u22126','\u22124','\u22122','0','2','4','6'],
 {totUp:gTotUp,totDn:gTotDn,moUp:gMoUp,moDn:gMoDn,teUp:gTeUp,teDn:gTeDn,xUp:gXUp,xDn:gXDn},'Cl','#adff2f');
dosPanel('f',1593,2344,789,1344,10,[-10,-8,-6,-4,-2,0,2,4,6,8,10],['\u221210','','\u22126','','\u22122','0','2','','6','','10'],
 {totUp:fTotUp,totDn:fTotDn,moUp:fMoUp,moDn:fMoDn,teUp:fTeUp,teDn:fTeDn,xUp:fXUp,xDn:fXDn},'Br','#ffc83c');
dosPanel('h',2595,3343,789,1344,8,[-8,-6,-4,-2,0,2,4,6,8],['\u22128','\u22126','\u22124','\u22122','0','2','4','6','8'],
 {totUp:hTotUp,totDn:hTotDn,moUp:hMoUp,moDn:hMoDn,teUp:hTeUp,teDn:hTeDn,xUp:hXUp,xDn:hXDn},'I','#7030a0');
</script>
</body></html>
